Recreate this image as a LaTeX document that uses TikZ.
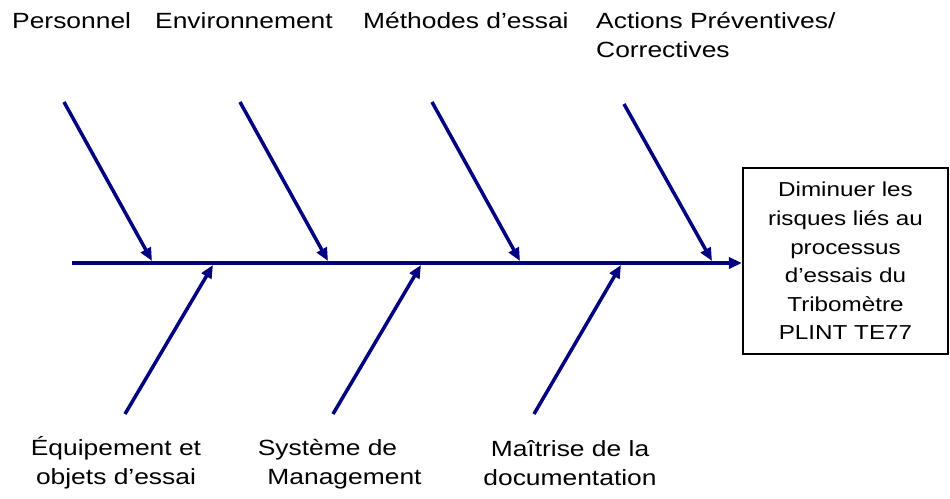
\documentclass[tikz,border=0pt]{standalone}
\usepackage{fontspec}
\setmainfont{Liberation Sans}
\newfontfamily\labfont[FakeStretch=1.2]{Liberation Sans}
\usetikzlibrary{arrows.meta}
\definecolor{bone}{RGB}{0,0,128}
\begin{document}
\begin{tikzpicture}[x=1pt,y=-1pt,
  bonestyle/.style={draw=bone, line width=3.5pt, -{Triangle[length=13pt,width=11pt]}},
  lab/.style={font=\labfont\fontsize{22}{29}\selectfont, inner sep=0pt},
  goalbox/.style={draw=black, line width=2.2pt, minimum width=205pt, minimum height=186pt,
    text width=195pt, align=center, inner sep=0pt, font=\labfont\fontsize{20.2}{28.6}\selectfont}]
\path[use as bounding box] (0,0) rectangle (950,498);
% goal box
\node[goalbox] (goal) at (845.5,261) {Diminuer les\\ risques liés au\\ processus\\ d’essais du\\ Tribomètre\\ PLINT TE77};
% spine
\coordinate (sp0) at (72,263);
\draw[bonestyle] (sp0) -- (sp0 -| goal.west);
% top bones
\coordinate (t1s) at (64,102);  \coordinate (t1e) at (152,261);
\coordinate (t2s) at (240,102); \coordinate (t2e) at (328,261);
\coordinate (t3s) at (432,102); \coordinate (t3e) at (520,261);
\coordinate (t4s) at (624,104); \coordinate (t4e) at (712,261);
\draw[bonestyle] (t1s) -- (t1e);
\draw[bonestyle] (t2s) -- (t2e);
\draw[bonestyle] (t3s) -- (t3e);
\draw[bonestyle] (t4s) -- (t4e);
% bottom bones
\coordinate (b1s) at (125,414); \coordinate (b1e) at (213,265);
\coordinate (b2s) at (333,414); \coordinate (b2e) at (421,265);
\coordinate (b3s) at (534,414); \coordinate (b3e) at (621,265);
\draw[bonestyle] (b1s) -- (b1e);
\draw[bonestyle] (b2s) -- (b2e);
\draw[bonestyle] (b3s) -- (b3e);
% top labels
\node[lab, anchor=base west] (l1) at (12,28) {Personnel};
\node[lab, anchor=base west] (l2) at (155,28) {Environnement};
\node[lab, anchor=base west] (l3) at (363,28) {Méthodes d’essai};
\node[lab, anchor=base west, align=left] (l4) at (596,57) {Actions Préventives/\\Correctives};
% bottom labels (base anchor = last line baseline)
\node[lab, anchor=base, align=center] (l5) at (116,484) {Équipement et\\objets d’essai};
\node[lab, anchor=base, align=center] (l6) at (344.5,484) {Système de\hspace*{34pt}\\Management};
\node[lab, anchor=base, align=center] (l7) at (570,485) {Maîtrise de la\\documentation};
\end{tikzpicture}
\end{document}
